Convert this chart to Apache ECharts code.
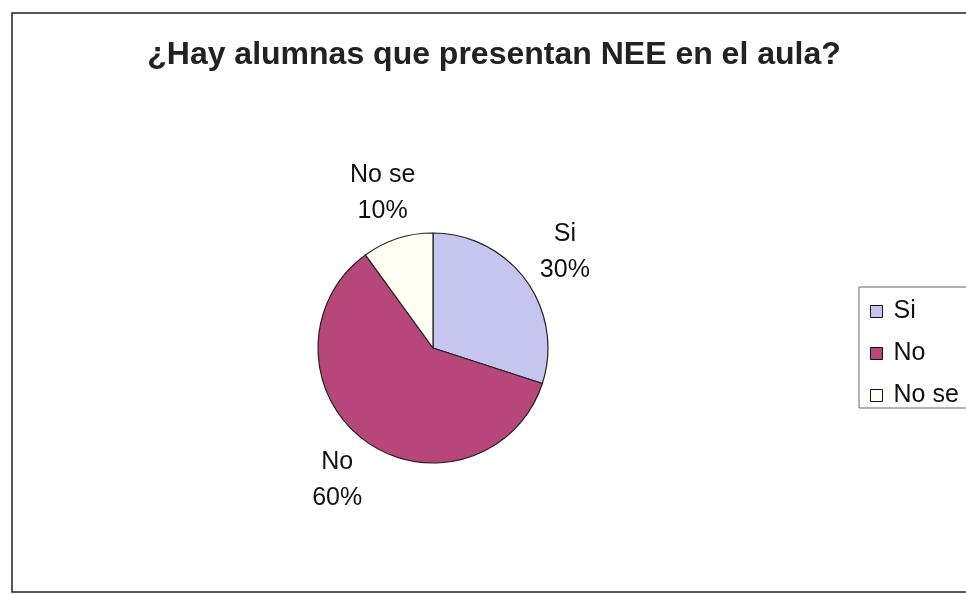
<!DOCTYPE html>
<html>
<head>
<meta charset="utf-8">
<script src="https://cdn.jsdelivr.net/npm/echarts@6/dist/echarts.min.js"></script>
<style>
  html, body { margin: 0; padding: 0; background: #fff; }
  #chart { width: 966px; height: 594px; }
</style>
</head>
<body>
<div id="chart"></div>
<script>
// datos
const categorias = ['Si', 'No', 'No se'];
const valores = [30, 60, 10];
const colores = ['#c5c5f0', '#b7467b', '#fffff2'];

const titulo = '¿Hay alumnas que presentan NEE en el aula?';

const myChart = echarts.init(document.getElementById('chart'));

const datos = categorias.map((c, i) => ({
  name: c,
  value: valores[i],
  itemStyle: { color: colores[i] },
}));

const option = {
  animation: false,
  backgroundColor: '#fff',
  textStyle: { fontFamily: 'Liberation Sans, Arial, sans-serif' },
  graphic: [{
    type: 'rect',
    shape: { x: 12, y: 13, width: 1000, height: 579 },
    style: { fill: 'none', stroke: '#222', lineWidth: 1.5 },
    silent: true,
  }],
  title: {
    text: titulo,
    left: 494,
    top: 39,
    textAlign: 'center',
    padding: 0,
    textStyle: {
      fontSize: 32,
      fontWeight: 'bold',
      color: '#222',
      fontFamily: 'Liberation Sans, Arial, sans-serif',
    },
  },
  legend: {
    orient: 'vertical',
    left: 859,
    top: 287,
    padding: [12, 30, 0, 11],
    itemGap: 17,
    itemWidth: 12,
    itemHeight: 12,
    icon: 'rect',
    borderColor: '#666',
    borderWidth: 1,
    itemStyle: { borderColor: '#111', borderWidth: 1 },
    textStyle: {
      fontSize: 25,
      lineHeight: 16,
      color: '#111',
      padding: [0, 0, 0, 6],
    },
    data: categorias,
  },
  series: [{
    type: 'pie',
    center: [433, 348],
    radius: 115,
    startAngle: 90,
    clockwise: true,
    data: datos,
    itemStyle: { borderColor: '#222', borderWidth: 1.2 },
    label: {
      show: true,
      position: 'outside',
      formatter: '{b}\n{d}%',
      fontSize: 25,
      lineHeight: 36,
      color: '#111',
      distanceToLabelLine: 0,
    },
    labelLine: { show: false, length: 48, length2: 0 },
    labelLayout: () => ({ align: 'center', verticalAlign: 'middle' }),
    emphasis: { disabled: true },
  }],
};

myChart.setOption(option);
</script>
</body>
</html>
